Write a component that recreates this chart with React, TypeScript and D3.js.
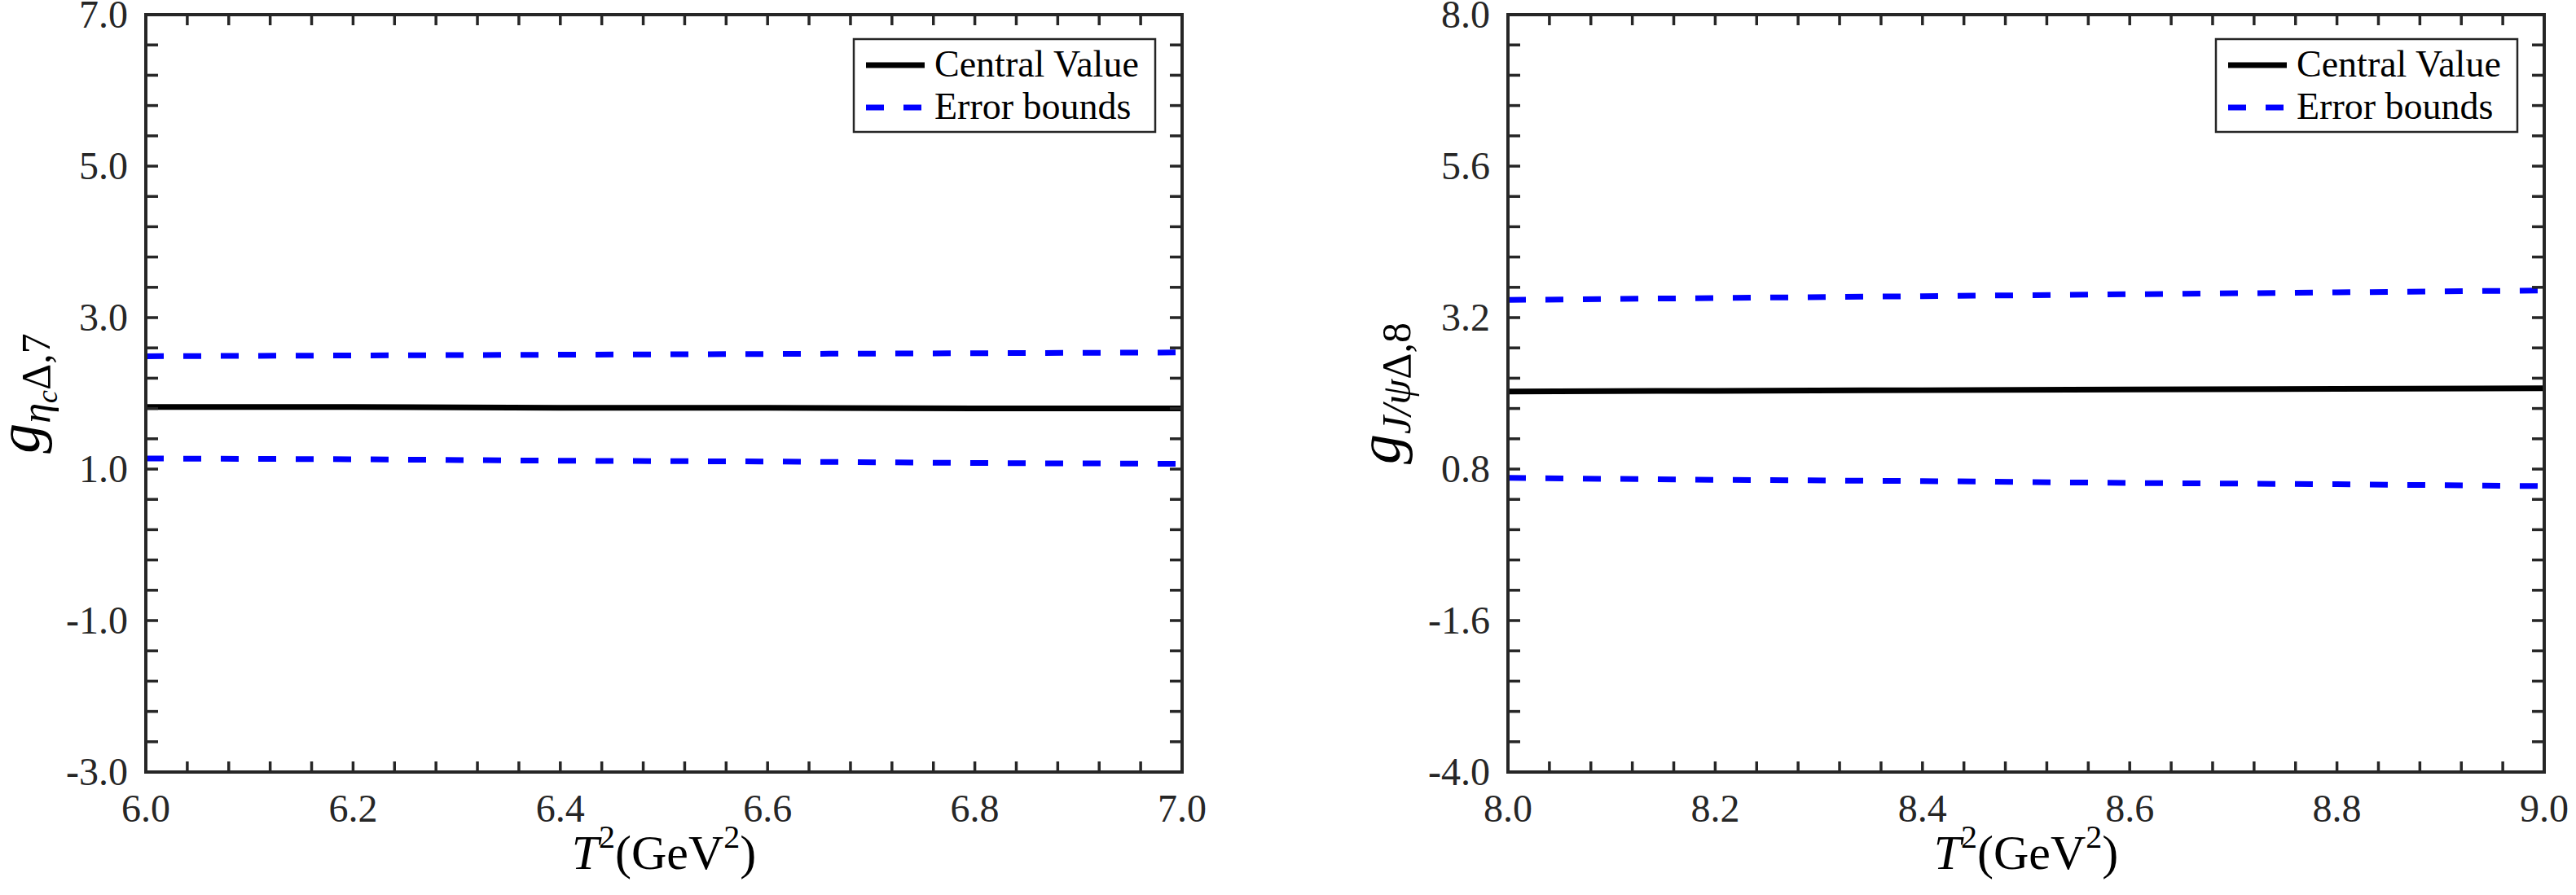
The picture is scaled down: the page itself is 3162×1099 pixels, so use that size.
import React, { useEffect, useRef } from 'react';
import * as d3 from 'd3';

// T^2 sample points
const tLeft = [6.0, 6.2, 6.4, 6.6, 6.8, 7.0];
const tRight = [8.0, 8.2, 8.4, 8.6, 8.8, 9.0];

// eta_c Delta coupling
const centralLeft = [1.82, 1.82, 1.81, 1.81, 1.8, 1.8];
const upperLeft = [2.49, 2.5, 2.51, 2.52, 2.53, 2.54];
const lowerLeft = [1.14, 1.13, 1.11, 1.1, 1.08, 1.07];

// J/psi Delta coupling
const centralRight = [2.03, 2.04, 2.05, 2.06, 2.07, 2.08];
const upperRight = [3.48, 3.51, 3.54, 3.57, 3.6, 3.63];
const lowerRight = [0.66, 0.63, 0.61, 0.58, 0.56, 0.53];

// tick labels
const xTicksLeft = [6.0, 6.2, 6.4, 6.6, 6.8, 7.0];
const xTicksRight = [8.0, 8.2, 8.4, 8.6, 8.8, 9.0];
const yTicksLeft = [-3.0, -1.0, 1.0, 3.0, 5.0, 7.0];
const yTicksRight = [-4.0, -1.6, 0.8, 3.2, 5.6, 8.0];

const legendNames = ['Central Value', 'Error bounds'];

const AXIS = '#262626';
const SERIF = '"Liberation Serif", "Times New Roman", serif';

function drawPanel(svg, opts) {
  const { left, width, top, height, t, central, upper, lower, xTicks, yTicks, ylabel } = opts;
  const x = d3.scaleLinear().domain([xTicks[0], xTicks[xTicks.length - 1]]).range([left, left + width]);
  const y = d3.scaleLinear().domain([yTicks[0], yTicks[yTicks.length - 1]]).range([top + height, top]);
  const g = svg.append('g');

  // minor ticks: 5 subdivisions between labelled ticks
  const sub = (ticks) => {
    const out = [];
    for (let i = 0; i < ticks.length - 1; i++) {
      const step = (ticks[i + 1] - ticks[i]) / 5;
      for (let k = 0; k < 5; k++) out.push(ticks[i] + k * step);
    }
    out.push(ticks[ticks.length - 1]);
    return out;
  };
  const xt = sub(xTicks);
  const yt = sub(yTicks);

  // data lines
  const clip = 'clip' + left;
  svg.append('clipPath').attr('id', clip).append('rect')
    .attr('x', left).attr('y', top).attr('width', width).attr('height', height);
  const line = d3.line().x((d, i) => x(t[i])).y(d => y(d));
  const lines = g.append('g').attr('clip-path', `url(#${clip})`);
  [upper, lower].forEach(s => {
    lines.append('path').attr('d', line(s)).attr('fill', 'none')
      .attr('stroke', '#0000ff').attr('stroke-width', 7).attr('stroke-dasharray', '22 24');
  });
  lines.append('path').attr('d', line(central)).attr('fill', 'none')
    .attr('stroke', '#000').attr('stroke-width', 7);

  // ticks (inward, on all four sides)
  const tk = g.append('g').attr('stroke', AXIS).attr('stroke-width', 3.5);
  xt.forEach(v => {
    tk.append('line').attr('x1', x(v)).attr('x2', x(v)).attr('y1', top + height).attr('y2', top + height - 13);
    tk.append('line').attr('x1', x(v)).attr('x2', x(v)).attr('y1', top).attr('y2', top + 13);
  });
  yt.forEach(v => {
    tk.append('line').attr('x1', left).attr('x2', left + 15).attr('y1', y(v)).attr('y2', y(v));
    tk.append('line').attr('x1', left + width).attr('x2', left + width - 15).attr('y1', y(v)).attr('y2', y(v));
  });

  g.append('rect').attr('x', left).attr('y', top).attr('width', width).attr('height', height)
    .attr('fill', 'none').attr('stroke', AXIS).attr('stroke-width', 4);

  // tick labels
  const fmt = d3.format('.1f');
  xTicks.forEach(v => {
    g.append('text').attr('x', x(v)).attr('y', top + height + 61).attr('text-anchor', 'middle')
      .attr('font-family', SERIF).attr('font-size', 48).attr('fill', AXIS).text(fmt(v));
  });
  yTicks.forEach(v => {
    g.append('text').attr('x', left - 22).attr('y', y(v) + 16).attr('text-anchor', 'end')
      .attr('font-family', SERIF).attr('font-size', 48).attr('fill', AXIS).text(fmt(v).replace('\u2212', '-'));
  });

  // x label: T^2(GeV^2)
  const xl = g.append('text').attr('x', left + width / 2).attr('y', top + height + 119)
    .attr('text-anchor', 'middle').attr('font-family', SERIF).attr('font-size', 60).attr('fill', '#000');
  xl.append('tspan').attr('font-style', 'italic').text('T');
  xl.append('tspan').attr('font-size', 40).attr('dy', -26).text('2');
  xl.append('tspan').attr('dy', 26).text('(GeV');
  xl.append('tspan').attr('font-size', 40).attr('dy', -26).text('2');
  xl.append('tspan').attr('dy', 26).text(')');

  // y label
  const yl = g.append('text')
    .attr('transform', `translate(${ylabel.x},${top + height / 2}) rotate(-90)`)
    .attr('text-anchor', 'middle').attr('font-family', SERIF).attr('fill', '#000');
  yl.append('tspan').attr('font-style', 'italic').attr('font-size', 74).text('g');
  ylabel.parts.forEach(p => {
    yl.append('tspan').attr('font-style', p.italic ? 'italic' : 'normal')
      .attr('font-size', p.size).attr('dy', p.dy).text(p.text);
  });

  // legend
  const lx = left + width - 33 - 370;
  const ly = top + 30;
  const lg = g.append('g');
  lg.append('rect').attr('x', lx).attr('y', ly).attr('width', 370).attr('height', 114)
    .attr('fill', '#fff').attr('stroke', AXIS).attr('stroke-width', 2.5);
  legendNames.forEach((name, i) => {
    const cy = ly + 32 + i * 52;
    lg.append('line').attr('x1', lx + 15).attr('x2', lx + 87).attr('y1', cy).attr('y2', cy)
      .attr('stroke', i === 0 ? '#000' : '#0000ff').attr('stroke-width', 7)
      .attr('stroke-dasharray', i === 0 ? null : '22 24');
    lg.append('text').attr('x', lx + 99).attr('y', cy + 14).attr('font-family', SERIF)
      .attr('font-size', 46).attr('fill', '#000').text(name);
  });
}

export default function App() {
  const ref = useRef(null);

  useEffect(() => {
    const svg = d3.select(ref.current);
    svg.selectAll('*').remove();
    drawPanel(svg, {
      left: 179, width: 1272, top: 18, height: 930,
      t: tLeft, central: centralLeft, upper: upperLeft, lower: lowerLeft,
      xTicks: xTicksLeft, yTicks: yTicksLeft,
      ylabel: {
        x: 48,
        parts: [
          { text: 'η', size: 50, dy: 13, italic: true },
          { text: 'c', size: 36, dy: 9, italic: true },
          { text: 'Δ,7', size: 50, dy: -9, italic: false },
        ],
      },
    });
    drawPanel(svg, {
      left: 1851, width: 1272, top: 18, height: 930,
      t: tRight, central: centralRight, upper: upperRight, lower: lowerRight,
      xTicks: xTicksRight, yTicks: yTicksRight,
      ylabel: {
        x: 1718,
        parts: [
          { text: 'J/', size: 50, dy: 13, italic: true },
          { text: 'ψ', size: 50, dy: 0, italic: true },
          { text: 'Δ,8', size: 50, dy: 0, italic: false },
        ],
      },
    });
  }, []);

  return (
    <svg ref={ref} width={3162} height={1099}
      style={{ position: 'absolute', left: 0, top: 0, background: '#fff' }} />
  );
}
